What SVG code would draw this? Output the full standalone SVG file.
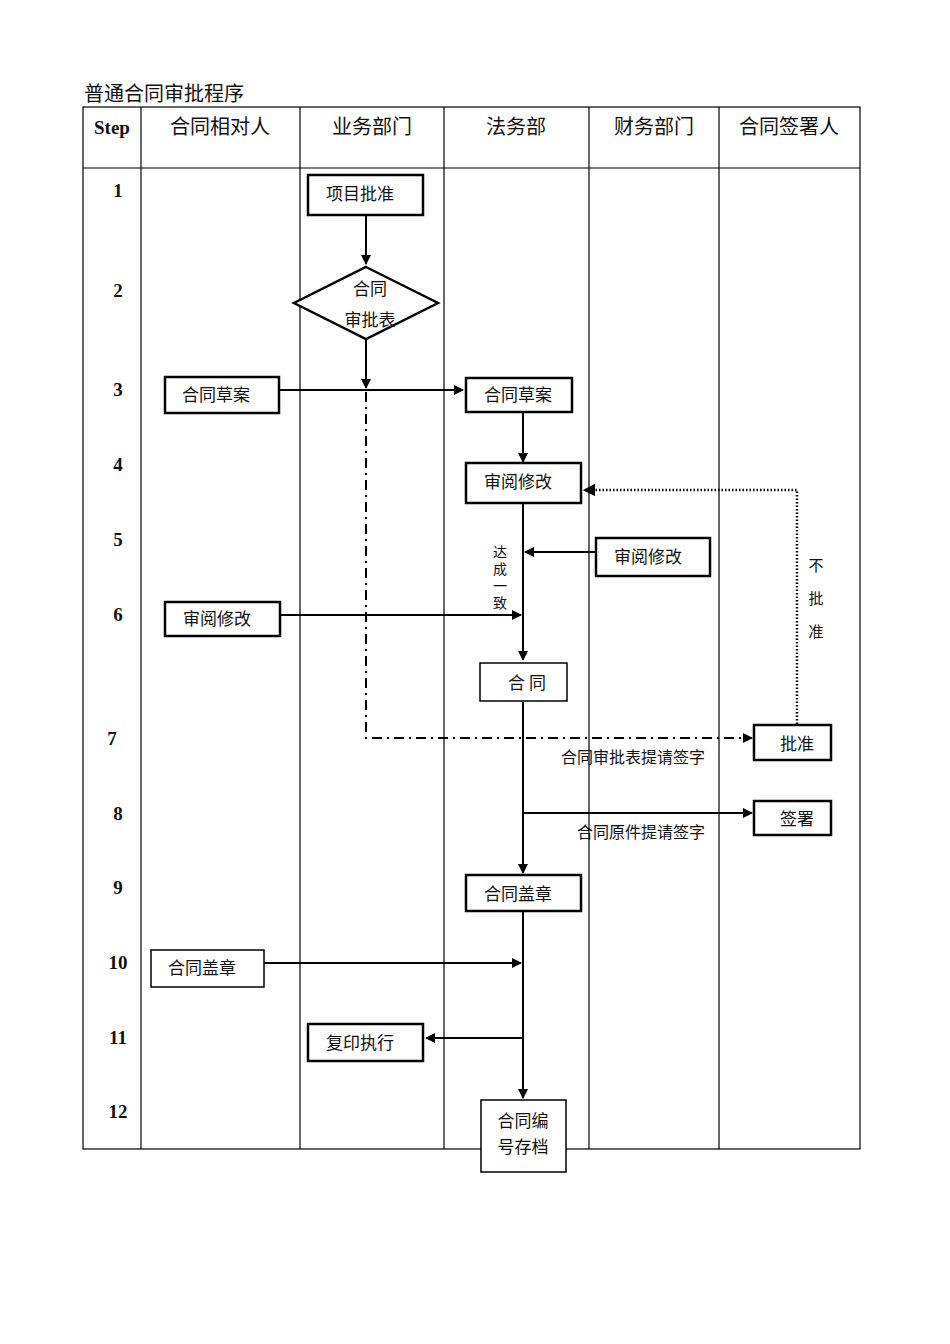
<svg xmlns="http://www.w3.org/2000/svg" width="950" height="1344" viewBox="0 0 950 1344">
<style>
text{font-family:"Noto Sans CJK SC","Liberation Serif",serif;fill:#111}
.h{font-size:20px;text-anchor:middle}
.s{font-family:"Liberation Serif",serif;font-weight:bold;font-size:19px;text-anchor:middle}
.b{fill:#fff;stroke:#000;stroke-width:2.5}
.bt{fill:#fff;stroke:#000;stroke-width:1.5}
.t{font-size:17px;text-anchor:middle}
.l{font-size:16px}
.v{writing-mode:vertical-rl}
.g{stroke:#000;stroke-width:1.2;fill:none}
.c{stroke:#000;stroke-width:2;fill:none}
</style>
<defs><marker id="a" viewBox="0 0 10 10" refX="9" refY="5" markerWidth="5" markerHeight="5" orient="auto"><path d="M0,0L10,5L0,10z" fill="#000"/></marker></defs>
<rect width="950" height="1344" fill="#fff"/>
<text x="84" y="101" font-size="20">普通合同审批程序</text>
<g id="table" class="g">
<rect x="83" y="107" width="777" height="1042"/>
<line x1="83" y1="168" x2="860" y2="168"/>
<line x1="141" y1="107" x2="141" y2="1149"/><line x1="300" y1="107" x2="300" y2="1149"/><line x1="444" y1="107" x2="444" y2="1149"/><line x1="589" y1="107" x2="589" y2="1149"/><line x1="719" y1="107" x2="719" y2="1149"/>
</g>
<g id="headers">
<text class="s" x="112" y="134">Step</text>
<text class="h" x="220" y="134">合同相对人</text><text class="h" x="372" y="134">业务部门</text><text class="h" x="516" y="134">法务部</text><text class="h" x="654" y="134">财务部门</text><text class="h" x="789" y="134">合同签署人</text>
</g>
<g id="steps">
<text class="s" x="118" y="197">1</text><text class="s" x="118" y="297">2</text><text class="s" x="118" y="396">3</text><text class="s" x="118" y="471">4</text><text class="s" x="118" y="546">5</text><text class="s" x="118" y="621">6</text><text class="s" x="112" y="745">7</text><text class="s" x="118" y="820">8</text><text class="s" x="118" y="894">9</text><text class="s" x="118" y="969">10</text><text class="s" x="118" y="1044">11</text><text class="s" x="118" y="1118">12</text>
</g>
<g id="connectors">
<line class="c" x1="366" y1="215" x2="366" y2="264" marker-end="url(#a)"/>
<line class="c" x1="366" y1="339" x2="366" y2="388" marker-end="url(#a)"/>
<line class="c" x1="279" y1="390" x2="463" y2="390" marker-end="url(#a)"/>
<line class="c" x1="523" y1="412" x2="523" y2="462" marker-end="url(#a)"/>
<line class="c" x1="523" y1="504" x2="523" y2="660" marker-end="url(#a)"/>
<line class="c" x1="596" y1="552" x2="525" y2="552" marker-end="url(#a)"/>
<line class="c" x1="280" y1="615" x2="521" y2="615" marker-end="url(#a)"/>
<path d="M366,392V738H752" fill="none" stroke="#000" stroke-width="2" stroke-dasharray="10,5,2,5" marker-end="url(#a)"/>
<path d="M797,724V490H584" fill="none" stroke="#000" stroke-width="2.5" stroke-dasharray="1.5,2" marker-end="url(#a)"/>
<line class="c" x1="523" y1="702" x2="523" y2="873" marker-end="url(#a)"/>
<line class="c" x1="523" y1="813" x2="752" y2="813" marker-end="url(#a)"/>
<line class="c" x1="523" y1="911" x2="523" y2="1098" marker-end="url(#a)"/>
<line class="c" x1="264" y1="963" x2="521" y2="963" marker-end="url(#a)"/>
<line class="c" x1="523" y1="1038" x2="426" y2="1038" marker-end="url(#a)"/>
<text class="v" x="500" y="545" font-size="14" letter-spacing="3">达成一致</text>
<text class="v" x="816" y="558" font-size="15" letter-spacing="18">不批准</text>
<text class="l" x="561" y="763">合同审批表提请签字</text>
<text class="l" x="577" y="838">合同原件提请签字</text>
</g>
<g id="n1"><rect class="b" x="308" y="175" width="115" height="40"/><text class="t" x="360" y="200">项目批准</text></g>
<g id="n2"><polygon class="b" points="366,267 438,303 366,339 294,303"/><text class="t" x="370" y="295">合同</text><text class="t" x="370" y="326">审批表</text></g>
<g id="n3a"><rect class="b" x="165" y="377" width="114" height="36"/><text class="t" x="216" y="401">合同草案</text></g>
<g id="n3b"><rect class="b" x="466" y="378" width="106" height="34"/><text class="t" x="518" y="401">合同草案</text></g>
<g id="n4"><rect class="b" x="466" y="463" width="115" height="40"/><text class="t" x="518" y="488">审阅修改</text></g>
<g id="n5"><rect class="b" x="596" y="538" width="114" height="38"/><text class="t" x="648" y="563">审阅修改</text></g>
<g id="n6"><rect class="b" x="165" y="602" width="115" height="34"/><text class="t" x="217" y="625">审阅修改</text></g>
<g id="n7"><rect class="bt" x="480" y="663" width="87" height="38"/><text class="t" x="527" y="689">合  同</text></g>
<g id="n7b"><rect class="b" x="754" y="725" width="77" height="35"/><text class="t" x="797" y="750">批准</text></g>
<g id="n8"><rect class="b" x="754" y="801" width="77" height="34"/><text class="t" x="797" y="825">签署</text></g>
<g id="n9"><rect class="b" x="466" y="875" width="115" height="36"/><text class="t" x="518" y="900">合同盖章</text></g>
<g id="n10"><rect class="bt" x="151" y="950" width="113" height="37"/><text class="t" x="202" y="974">合同盖章</text></g>
<g id="n11"><rect class="b" x="308" y="1024" width="115" height="37"/><text class="t" x="360" y="1049">复印执行</text></g>
<g id="n12"><rect class="bt" x="481" y="1100" width="85" height="72"/><text class="t" x="523" y="1127">合同编</text><text class="t" x="523" y="1153">号存档</text></g>
</svg>
